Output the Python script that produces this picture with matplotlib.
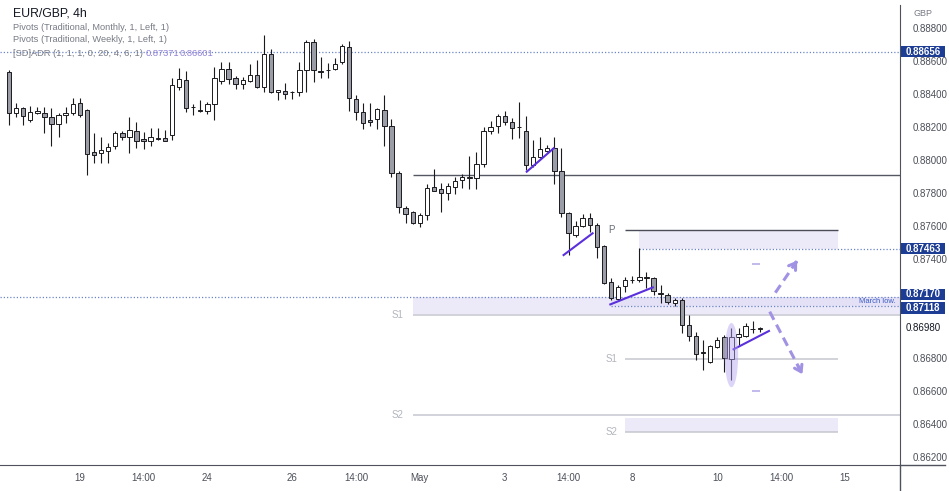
import matplotlib
matplotlib.use("Agg")
import matplotlib.pyplot as plt
import matplotlib.transforms as mtransforms
from matplotlib.lines import Line2D
from matplotlib.patches import Ellipse, Rectangle
import numpy as np

plt.rcParams['font.family'] = ['Liberation Sans', 'DejaVu Sans']

# EUR/GBP 4h candles
opens = [0.88533, 0.88285, 0.88315, 0.88242, 0.88285, 0.88285, 0.88261, 0.88218, 0.88273, 0.88285,
         0.88345, 0.88303, 0.88048, 0.88042, 0.88055, 0.88085, 0.88164, 0.88139, 0.88176, 0.88127,
         0.88115, 0.88127, 0.88133, 0.88152, 0.88442, 0.88485, 0.88318, 0.88303, 0.88297, 0.88339,
         0.88479, 0.88552, 0.88497, 0.88461, 0.88479, 0.88515, 0.88442, 0.88642, 0.88412, 0.88418,
         0.88412, 0.88412, 0.88545, 0.88715, 0.88539, 0.88545, 0.88552, 0.88594, 0.88685, 0.88370,
         0.88291, 0.88242, 0.88248, 0.88303, 0.88206, 0.87921, 0.87709, 0.87685, 0.87618, 0.87667,
         0.87836, 0.87824, 0.87800, 0.87836, 0.87879, 0.87891, 0.87891, 0.87976, 0.88176, 0.88206,
         0.88267, 0.88230, 0.88200, 0.88176, 0.87970, 0.88018, 0.88055, 0.88073, 0.87933, 0.87679,
         0.87545, 0.87600, 0.87648, 0.87606, 0.87479, 0.87261, 0.87158, 0.87236, 0.87273, 0.87273,
         0.87291, 0.87285, 0.87194, 0.87182, 0.87133, 0.87152, 0.87000, 0.86933, 0.86836, 0.86776,
         0.86867, 0.86927, 0.86794, 0.86927, 0.86933, 0.86976, 0.86976]
highs = [0.88545, 0.88345, 0.88321, 0.88327, 0.88321, 0.88321, 0.88315, 0.88285, 0.88321, 0.88376,
         0.88376, 0.88309, 0.88164, 0.88139, 0.88103, 0.88176, 0.88176, 0.88261, 0.88230, 0.88170,
         0.88194, 0.88194, 0.88182, 0.88497, 0.88558, 0.88539, 0.88339, 0.88364, 0.88352, 0.88564,
         0.88594, 0.88594, 0.88509, 0.88503, 0.88582, 0.88606, 0.88758, 0.88673, 0.88424, 0.88467,
         0.88418, 0.88594, 0.88727, 0.88733, 0.88624, 0.88588, 0.88618, 0.88703, 0.88721, 0.88394,
         0.88345, 0.88345, 0.88315, 0.88394, 0.88248, 0.87933, 0.87721, 0.87691, 0.87679, 0.87855,
         0.87945, 0.87861, 0.87861, 0.87897, 0.87915, 0.88024, 0.88048, 0.88200, 0.88236, 0.88279,
         0.88297, 0.88255, 0.88352, 0.88267, 0.88121, 0.88139, 0.88091, 0.88139, 0.88073, 0.87685,
         0.87630, 0.87673, 0.87679, 0.87618, 0.87485, 0.87285, 0.87242, 0.87291, 0.87297, 0.87467,
         0.87321, 0.87291, 0.87242, 0.87194, 0.87164, 0.87164, 0.87061, 0.86958, 0.86909, 0.86879,
         0.86927, 0.86939, 0.86982, 0.86982, 0.87012, 0.87024, 0.86988]
lows = [0.88212, 0.88261, 0.88212, 0.88230, 0.88279, 0.88164, 0.88085, 0.88139, 0.88224, 0.88273,
        0.88261, 0.87909, 0.87982, 0.87982, 0.87982, 0.88067, 0.88121, 0.88042, 0.88073, 0.88067,
        0.88085, 0.88121, 0.88115, 0.88121, 0.88424, 0.88291, 0.88273, 0.88291, 0.88279, 0.88242,
        0.88461, 0.88461, 0.88430, 0.88430, 0.88473, 0.88436, 0.88412, 0.88406, 0.88364, 0.88370,
        0.88370, 0.88388, 0.88412, 0.88473, 0.88497, 0.88497, 0.88545, 0.88582, 0.88297, 0.88242,
        0.88188, 0.88206, 0.88188, 0.88085, 0.87897, 0.87679, 0.87618, 0.87612, 0.87594, 0.87636,
        0.87810, 0.87685, 0.87758, 0.87794, 0.87830, 0.87824, 0.87824, 0.87958, 0.88158, 0.88164,
        0.88212, 0.88127, 0.88133, 0.87939, 0.87958, 0.88012, 0.88048, 0.87855, 0.87655, 0.87424,
        0.87533, 0.87594, 0.87564, 0.87406, 0.87248, 0.87152, 0.87152, 0.87200, 0.87255, 0.87261,
        0.87224, 0.87182, 0.87133, 0.87127, 0.87115, 0.86952, 0.86903, 0.86788, 0.86727, 0.86770,
        0.86861, 0.86715, 0.86667, 0.86879, 0.86927, 0.86952, 0.86958]
closes = [0.88285, 0.88315, 0.88267, 0.88291, 0.88297, 0.88261, 0.88218, 0.88273, 0.88285, 0.88339,
          0.88273, 0.88036, 0.88030, 0.88061, 0.88079, 0.88164, 0.88139, 0.88182, 0.88115, 0.88115,
          0.88139, 0.88133, 0.88115, 0.88455, 0.88491, 0.88315, 0.88321, 0.88297, 0.88339, 0.88497,
          0.88552, 0.88491, 0.88461, 0.88485, 0.88515, 0.88442, 0.88642, 0.88412, 0.88424, 0.88400,
          0.88409, 0.88545, 0.88715, 0.88545, 0.88536, 0.88548, 0.88582, 0.88691, 0.88376, 0.88291,
          0.88224, 0.88230, 0.88309, 0.88206, 0.87921, 0.87715, 0.87673, 0.87618, 0.87667, 0.87830,
          0.87812, 0.87800, 0.87842, 0.87873, 0.87897, 0.87894, 0.87976, 0.88176, 0.88200, 0.88267,
          0.88230, 0.88194, 0.88197, 0.87970, 0.88018, 0.88067, 0.88073, 0.87933, 0.87679, 0.87558,
          0.87600, 0.87648, 0.87606, 0.87473, 0.87255, 0.87164, 0.87230, 0.87273, 0.87270, 0.87291,
          0.87285, 0.87206, 0.87191, 0.87139, 0.87152, 0.87000, 0.86933, 0.86824, 0.86833, 0.86873,
          0.86909, 0.86800, 0.86927, 0.86945, 0.86994, 0.86979, 0.86980]

# date axis (candle index -> label)
tick_idx = [10, 19, 28, 40, 49, 58, 70, 79, 88, 100, 109, 118]
tick_lbl = ['19', '14:00', '24', '26', '14:00', 'May', '3', '14:00', '8', '10', '14:00', '15']
price_ticks = [0.888, 0.886, 0.884, 0.882, 0.880, 0.878, 0.876, 0.874, 0.868, 0.866, 0.864, 0.862]

# levels
last_price = 0.86980
adr_high, adr_low = 0.87371, 0.86601
level_top = 0.88656
level_mid = 0.87463
march_low = [0.87170, 0.87118]
res_line = 0.87909
m_s1, m_s2 = 0.87061, 0.86455
w_p, w_s1, w_s2 = 0.87576, 0.86794, 0.86352
w_s2_band_top = 0.86438
month_start, week_start, week_end = 57, 87, 117

# hand-drawn trendlines (candle index, price)
trendlines = [[(73.1, 0.87929), (76.9, 0.88071)],
              [(78.3, 0.87424), (82.4, 0.87556)],
              [(84.9, 0.87125), (90.9, 0.87228)],
              [(102.3, 0.86853), (107.3, 0.86964)]]
arrow_up = [(108.2, 0.87196), (111.5, 0.87404)]
arrow_dn = [(107.4, 0.87081), (112.2, 0.86687)]

o = np.array(opens); h = np.array(highs); l = np.array(lows); c = np.array(closes)
x = np.arange(len(o))
XMAX = 125.8

fig = plt.figure(figsize=(9.49, 4.91), dpi=100)
ax = fig.add_axes([0, 26 / 491, 900 / 949, 460 / 491])
ax.set_xlim(-1.27, XMAX)
ax.set_ylim(0.86152, 0.88939)

# zones
band = '#ece9f8'
ax.fill_between([month_start, XMAX], m_s1, march_low[0], color=band, lw=0, zorder=0)
ax.fill_between([89, week_end], level_mid, w_p, color=band, lw=0, zorder=0)
ax.fill_between([week_start, week_end], w_s2, w_s2_band_top, color=band, lw=0, zorder=0)
ax.fill_between([85, XMAX], march_low[1], march_low[0], color='#e4e1f6', lw=0, zorder=0)

# pivot lines
ax.hlines([m_s1, m_s2], month_start, XMAX, color='#cfd0d8', lw=1.3, zorder=1)
ax.hlines([w_s1, w_s2], week_start, week_end, color='#c6c7cf', lw=1.1, zorder=1)
ax.hlines(w_p, week_start, week_end, color='#4a4d57', lw=1.0, zorder=1)
ax.hlines(res_line, month_start, XMAX, color='#555862', lw=1.0, zorder=1)
for lab, yv in [('S1', m_s1), ('S2', m_s2)]:
    ax.text(54.8, yv, lab, color='#b2b5be', fontsize=7, ha='center', va='center')
for lab, yv, col in [('P', w_p, '#6a6d78'), ('S1', w_s1, '#b2b5be'), ('S2', w_s2, '#b2b5be')]:
    ax.text(85, yv, lab, color=col, fontsize=7, ha='center', va='center')

# dotted levels
dot = dict(color='#6a86c8', lw=0.9, ls=(0, (1, 1.6)), zorder=1)
ax.hlines(level_top, -1.27, XMAX, **dot)
ax.hlines(march_low[0], -1.27, XMAX, **dot)
ax.hlines(march_low[1], 85, XMAX, **dot)
ax.hlines(level_mid, 89, XMAX, **dot)
ax.text(XMAX - 0.6, (march_low[0] + march_low[1]) / 2, 'March low.', color='#3a5cc4',
        fontsize=5.5, ha='right', va='center')

# candles
up = c >= o
body_lo = np.minimum(o, c)
body_h = np.maximum(np.abs(c - o), 0.000012)
ax.vlines(x, l, h, color='#1b1b1f', lw=0.8, zorder=3)
ax.bar(x[up], body_h[up], bottom=body_lo[up], width=0.62, color='white',
       edgecolor='#1b1b1f', lw=0.7, zorder=4)
ax.bar(x[~up], body_h[~up], bottom=body_lo[~up], width=0.62, color='#9a9ca6',
       edgecolor='#1b1b1f', lw=0.7, zorder=4)

# annotations
for seg in trendlines:
    xs, ys = zip(*seg)
    ax.plot(xs, ys, color='#5a2fdc', lw=1.5, zorder=5)
ax.add_patch(Ellipse((102, 0.86818), 1.9, 0.0039, facecolor='#b3a2ee', alpha=0.45,
                     edgecolor='none', zorder=6))
ax.hlines([adr_high, adr_low], 104.9, 106.1, color='#b9aeea', lw=1.2, zorder=2)
acol = '#a292e4'
for (x0, y0), (x1, y1) in [arrow_up, arrow_dn]:
    ax.plot([x0, x1 - 0.08 * (x1 - x0)], [y0, y1 - 0.08 * (y1 - y0)], color=acol,
            lw=2.2, ls=(0, (3, 1.8)), zorder=5)
    ax.annotate('', xy=(x1, y1), xytext=(x1 - 0.2 * (x1 - x0), y1 - 0.2 * (y1 - y0)),
                arrowprops=dict(arrowstyle='->,head_length=0.45,head_width=0.3', color=acol, lw=2.2),
                zorder=5)

# axes styling
for s in ['top', 'left']:
    ax.spines[s].set_visible(False)
ax.spines['right'].set_color('#4f525c')
ax.spines['bottom'].set_color('#4f525c')
ax.yaxis.tick_right()
ax.set_yticks(price_ticks, [f'{p:.5f}' for p in price_ticks])
ax.tick_params(axis='y', length=0, pad=9, labelsize=7, labelcolor='#4c4f59')
ax.set_xticks(tick_idx, tick_lbl)
ax.tick_params(axis='x', length=0, pad=6, labelsize=7, labelcolor='#4c4f59')

# price labels on the right axis
trans = mtransforms.blended_transform_factory(ax.transAxes, ax.transData)
box_h = 0.00070
for val, yc in [(level_top, level_top), (level_mid, level_mid),
                (march_low[0], march_low[0] + 0.00016), (march_low[1], march_low[1] - 0.00014)]:
    ax.add_patch(Rectangle((1.001, yc - box_h / 2), 0.049, box_h, transform=trans,
                           facecolor='#1d3d94', edgecolor='none', clip_on=False, zorder=8))
    ax.text(1.0255, yc, f'{val:.5f}', transform=trans, color='white', fontsize=7,
            fontweight='bold', ha='center', va='center', clip_on=False, zorder=9)
ax.text(1.0255, last_price, f'{last_price:.5f}', transform=trans, color='#131722', fontsize=7,
        ha='center', va='center', clip_on=False, zorder=9,
        bbox=dict(facecolor='white', edgecolor='none', pad=1.5))

fig.add_artist(Line2D([900 / 949, 900 / 949], [0, 26 / 491], color='#4f525c', lw=1))
fig.add_artist(Line2D([900 / 949, 945 / 949], [26 / 491, 26 / 491], color='#4f525c', lw=1))

# header
hdr = 6.65
fig.text(13 / 949, 1 - 13 / 491, 'EUR/GBP, 4h', fontsize=8.8, color='#131722', va='center')
fig.text(13 / 949, 1 - 27 / 491, 'Pivots (Traditional, Monthly, 1, Left, 1)', fontsize=hdr,
         color='#787b86', va='center')
fig.text(13 / 949, 1 - 40 / 491, 'Pivots (Traditional, Weekly, 1, Left, 1)', fontsize=hdr,
         color='#787b86', va='center')
fig.text(13 / 949, 1 - 53 / 491, '[SD]ADR (1, 1, 1, 0, 20, 4, 6, 1)', fontsize=hdr,
         color='#787b86', va='center')
fig.text(146 / 949, 1 - 53 / 491, f'{adr_high:.5f}', fontsize=hdr, color='#9080d8', va='center')
fig.text(180 / 949, 1 - 53 / 491, f'{adr_low:.5f}', fontsize=hdr, color='#9080d8', va='center')
fig.text(913 / 949, 1 - 13 / 491, 'GBP', fontsize=6.5, color='#787b86', va='center')

fig.savefig('out.png', dpi=100)
